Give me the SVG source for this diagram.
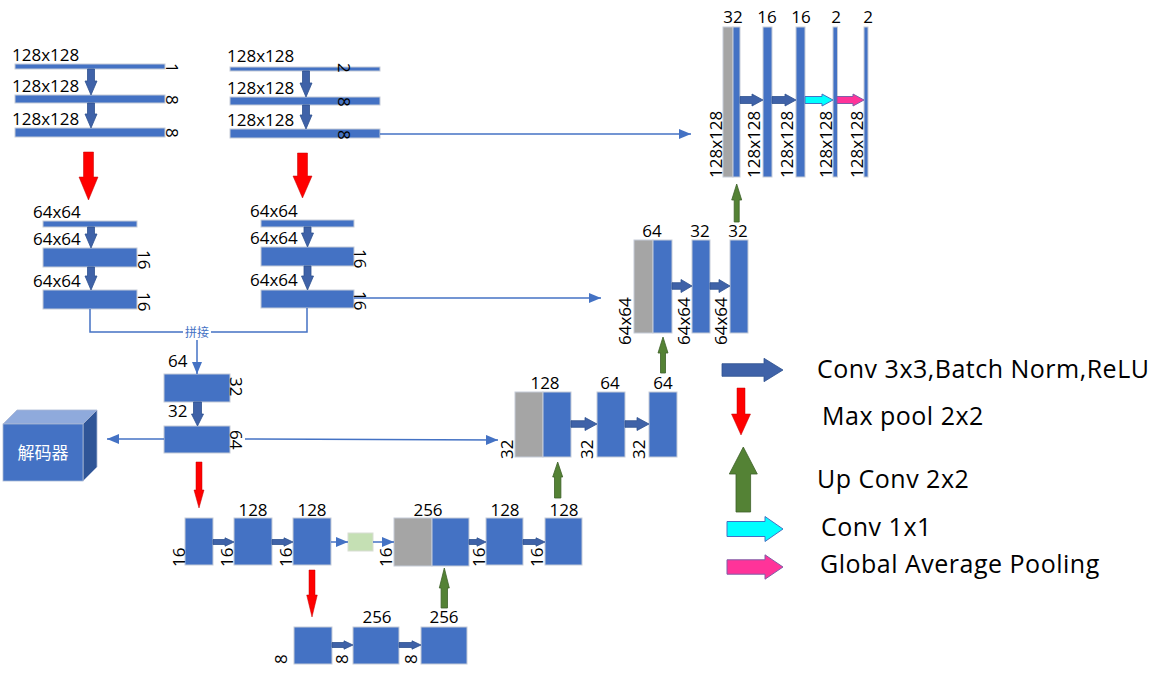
<svg xmlns="http://www.w3.org/2000/svg" width="1165" height="675" viewBox="0 0 1165 675">
<style>
.b{fill:#4472C4;stroke:#C5CCD8;stroke-width:1}
.g{fill:#A5A5A5;stroke:#C5CCD8;stroke-width:1}
.lgn{fill:#C5E0B4;stroke:#D8DDD4;stroke-width:1}
.t{font-family:"Open Sans","Liberation Sans",sans-serif;font-size:17px;fill:#000}
.c{text-anchor:middle}
.lg{font-size:25px;letter-spacing:0.5px}
.ca{fill:#3F62A8;stroke:#2F528F;stroke-width:0.8}
.mp{fill:#FF0000;stroke:#C00000;stroke-width:0.5}
.up{fill:#548235;stroke:#3E6128;stroke-width:0.8}
.cy{fill:#00FFFF;stroke:#4472C4;stroke-width:1}
.pk{fill:#FF3399;stroke:#7F5FA8;stroke-width:1}
.ln{stroke:#4472C4;stroke-width:1.5;fill:none}
</style>
<defs>
<marker id="ah" markerUnits="userSpaceOnUse" markerWidth="12" markerHeight="10" refX="12" refY="5" orient="auto">
<path d="M0,0 L12,5 L0,10 z" fill="#4472C4"/>
</marker>
</defs>
<rect width="1165" height="675" fill="#fff"/>

<!-- encoder branch 1, 128x128 -->
<g id="enc1-128">
<rect class="b" x="15" y="64" width="150" height="5"/>
<rect class="b" x="15" y="95" width="150" height="8"/>
<rect class="b" x="15" y="128" width="150" height="9"/>
<text class="t" x="12" y="61">128x128</text>
<text class="t" x="12" y="92">128x128</text>
<text class="t" x="12" y="125">128x128</text>
<text class="t" transform="translate(166,63) rotate(90)">1</text>
<text class="t" transform="translate(166,95) rotate(90)">8</text>
<text class="t" transform="translate(166,128) rotate(90)">8</text>
</g>
<!-- encoder branch 2, 128x128 -->
<g id="enc2-128">
<rect class="b" x="230" y="67" width="150" height="4"/>
<rect class="b" x="230" y="97" width="150" height="8"/>
<rect class="b" x="230" y="129" width="150" height="9"/>
<text class="t" x="227" y="62">128x128</text>
<text class="t" x="227" y="94">128x128</text>
<text class="t" x="227" y="126">128x128</text>
<text class="t" transform="translate(338,63) rotate(90)">2</text>
<text class="t" transform="translate(338,97) rotate(90)">8</text>
<text class="t" transform="translate(338,130) rotate(90)">8</text>
</g>
<!-- encoder branch 1, 64x64 -->
<g id="enc1-64">
<rect class="b" x="43" y="221" width="94" height="6"/>
<rect class="b" x="43" y="248" width="94" height="19"/>
<rect class="b" x="43" y="290" width="94" height="19"/>
<text class="t" x="33" y="218">64x64</text>
<text class="t" x="33" y="245">64x64</text>
<text class="t" x="33" y="287">64x64</text>
<text class="t" transform="translate(138,250) rotate(90)">16</text>
<text class="t" transform="translate(138,292) rotate(90)">16</text>
</g>
<!-- encoder branch 2, 64x64 -->
<g id="enc2-64">
<rect class="b" x="261" y="220" width="93" height="7"/>
<rect class="b" x="261" y="247" width="93" height="19"/>
<rect class="b" x="261" y="290" width="93" height="18"/>
<text class="t" x="250" y="217">64x64</text>
<text class="t" x="250" y="244">64x64</text>
<text class="t" x="250" y="286">64x64</text>
<text class="t" transform="translate(354,249) rotate(90)">16</text>
<text class="t" transform="translate(354,291) rotate(90)">16</text>
</g>
<!-- fused 32x32 -->
<g id="fuse-32">
<rect class="b" x="164" y="374" width="66" height="28"/>
<rect class="b" x="164" y="426" width="66" height="27"/>
<text class="t" x="168" y="367">64</text>
<text class="t" x="168" y="417">32</text>
<text class="t" transform="translate(230,377) rotate(90)">32</text>
<text class="t" transform="translate(230,430) rotate(90)">64</text>
</g>
<!-- decoder box -->
<g id="decoder">
<polygon points="3,424 17,410 97,410 83,424" fill="#8FAADC" stroke="#A9B8D4" stroke-width="0.8"/>
<polygon points="83,424 97,410 97,467 83,481" fill="#2F5597" stroke="#A9B8D4" stroke-width="0.8"/>
<rect x="3" y="424" width="80" height="57" fill="#4472C4" stroke="#A9B8D4" stroke-width="0.8"/>
<text x="43" y="459" text-anchor="middle" font-family="'Noto Sans CJK SC',sans-serif" font-size="17" fill="#fff">解码器</text>
</g>
<!-- 16x16 level -->
<g id="level-16">
<rect class="b" x="185" y="518" width="28" height="47"/>
<rect class="b" x="234" y="518" width="38" height="47"/>
<rect class="b" x="293" y="518" width="38" height="47"/>
<text class="t c" x="253" y="516">128</text>
<text class="t c" x="312" y="516">128</text>
<text class="t" transform="translate(185,567) rotate(-90)">16</text>
<text class="t" transform="translate(233,567) rotate(-90)">16</text>
<text class="t" transform="translate(292,567) rotate(-90)">16</text>
</g>
<g id="bridge">
<rect class="lgn" x="348" y="533" width="25" height="18"/>
</g>
<!-- bottleneck 8x8 -->
<g id="level-8">
<rect class="b" x="294" y="627" width="38" height="37"/>
<rect class="b" x="353" y="627" width="46" height="37"/>
<rect class="b" x="421" y="627" width="46" height="37"/>
<text class="t c" x="377" y="623">256</text>
<text class="t c" x="444" y="623">256</text>
<text class="t" transform="translate(287,664) rotate(-90)">8</text>
<text class="t" transform="translate(348,664) rotate(-90)">8</text>
<text class="t" transform="translate(417,664) rotate(-90)">8</text>
</g>
<!-- decoder 16x16 -->
<g id="dec-16">
<rect class="g" x="394" y="518" width="38" height="48"/>
<rect class="b" x="432" y="518" width="37" height="48"/>
<rect class="b" x="486" y="518" width="37" height="47"/>
<rect class="b" x="545" y="518" width="37" height="47"/>
<text class="t c" x="428" y="516">256</text>
<text class="t c" x="505" y="516">128</text>
<text class="t c" x="564" y="516">128</text>
<text class="t" transform="translate(392,567) rotate(-90)">16</text>
<text class="t" transform="translate(485,567) rotate(-90)">16</text>
<text class="t" transform="translate(543,567) rotate(-90)">16</text>
</g>
<!-- decoder 32x32 -->
<g id="dec-32">
<rect class="g" x="515" y="392" width="28" height="65"/>
<rect class="b" x="543" y="392" width="28" height="65"/>
<rect class="b" x="597" y="392" width="28" height="65"/>
<rect class="b" x="649" y="392" width="28" height="65"/>
<text class="t c" x="545" y="389">128</text>
<text class="t c" x="610" y="389">64</text>
<text class="t c" x="663" y="389">64</text>
<text class="t" transform="translate(513,459) rotate(-90)">32</text>
<text class="t" transform="translate(593,459) rotate(-90)">32</text>
<text class="t" transform="translate(645,459) rotate(-90)">32</text>
</g>
<!-- decoder 64x64 -->
<g id="dec-64">
<rect class="g" x="634" y="240" width="19" height="93"/>
<rect class="b" x="653" y="240" width="19" height="93"/>
<rect class="b" x="692" y="240" width="18" height="93"/>
<rect class="b" x="730" y="240" width="18" height="93"/>
<text class="t c" x="652" y="237">64</text>
<text class="t c" x="700" y="237">32</text>
<text class="t c" x="738" y="237">32</text>
<text class="t" transform="translate(631,345) rotate(-90)">64x64</text>
<text class="t" transform="translate(690,345) rotate(-90)">64x64</text>
<text class="t" transform="translate(727,345) rotate(-90)">64x64</text>
</g>
<!-- decoder 128x128 -->
<g id="dec-128">
<rect class="g" x="723" y="27" width="10" height="150"/>
<rect class="b" x="733" y="27" width="7" height="150"/>
<rect class="b" x="763" y="27" width="9" height="150"/>
<rect class="b" x="796" y="27" width="9" height="150"/>
<rect class="b" x="833" y="27" width="4.5" height="150"/>
<rect class="b" x="864" y="27" width="4" height="150"/>
<text class="t c" x="733" y="23">32</text>
<text class="t c" x="767" y="23">16</text>
<text class="t c" x="801" y="23">16</text>
<text class="t c" x="836" y="23">2</text>
<text class="t c" x="868" y="23">2</text>
<text class="t" transform="translate(722,178) rotate(-90)">128x128</text>
<text class="t" transform="translate(760,178) rotate(-90)">128x128</text>
<text class="t" transform="translate(793,178) rotate(-90)">128x128</text>
<text class="t" transform="translate(832,178) rotate(-90)">128x128</text>
<text class="t" transform="translate(863,178) rotate(-90)">128x128</text>
</g>

<g id="connectors">
<!-- thin skip / concat lines -->
<line class="ln" x1="380" y1="134" x2="691" y2="134" marker-end="url(#ah)"/>
<line class="ln" x1="354" y1="298" x2="601" y2="298" marker-end="url(#ah)"/>
<polyline class="ln" points="90,309 90,332 307,332 307,308"/>
<rect x="183" y="326" width="28" height="13" fill="#fff"/>
<text x="197" y="337" text-anchor="middle" font-family="'Noto Sans CJK SC',sans-serif" font-size="12" fill="#4472C4">拼接</text>
<line class="ln" x1="197" y1="340" x2="197" y2="374" marker-end="url(#ah)"/>
<line class="ln" x1="164" y1="439" x2="107" y2="439" marker-end="url(#ah)"/>
<line class="ln" x1="245" y1="439" x2="498" y2="440" marker-end="url(#ah)"/>
<line class="ln" x1="331" y1="542" x2="348" y2="542" marker-end="url(#ah)"/>
<line class="ln" x1="373" y1="542" x2="394" y2="542" marker-end="url(#ah)"/>
<!-- conv arrows -->
<polygon class="ca" points="87.5,69 94.5,69 94.5,81 97,81 91,95 85,81 87.5,81"/>
<polygon class="ca" points="87.5,103 94.5,103 94.5,114 97,114 91,128 85,114 87.5,114"/>
<polygon class="ca" points="302.5,71 309.5,71 309.5,83 312,83 306,97 300,83 302.5,83"/>
<polygon class="ca" points="302.5,105 309.5,105 309.5,115 312,115 306,129 300,115 302.5,115"/>
<polygon class="ca" points="87.5,227 94.5,227 94.5,234 97,234 91,248 85,234 87.5,234"/>
<polygon class="ca" points="87.5,267 94.5,267 94.5,276 97,276 91,290 85,276 87.5,276"/>
<polygon class="ca" points="304,227 311,227 311,233 313.5,233 307.5,247 301.5,233 304,233"/>
<polygon class="ca" points="304,266 311,266 311,276 313.5,276 307.5,290 301.5,276 304,276"/>
<polygon class="ca" points="193.5,402 201.5,402 201.5,414 203.5,414 197.5,426 191.5,414 193.5,414"/>
<polygon class="ca" points="213,539.5 225,539.5 225,537.8 234,542 225,546.2 225,544.5 213,544.5"/>
<polygon class="ca" points="272,539.5 284,539.5 284,537.8 293,542 284,546.2 284,544.5 272,544.5"/>
<polygon class="ca" points="469,539.5 477,539.5 477,537.8 486,542 477,546.2 477,544.5 469,544.5"/>
<polygon class="ca" points="523,539.5 536,539.5 536,537.8 545,542 536,546.2 536,544.5 523,544.5"/>
<polygon class="ca" points="332,642.5 344,642.5 344,640.8 353,645 344,649.2 344,647.5 332,647.5"/>
<polygon class="ca" points="399,642.5 412,642.5 412,640.8 421,645 412,649.2 412,647.5 399,647.5"/>
<polygon class="ca" points="571,420.7 585,420.7 585,417.5 597,424 585,430.5 585,427.3 571,427.3"/>
<polygon class="ca" points="625,420.7 637,420.7 637,417.5 649,424 637,430.5 637,427.3 625,427.3"/>
<polygon class="ca" points="672,282.7 681,282.7 681,279.5 692,286 681,292.5 681,289.3 672,289.3"/>
<polygon class="ca" points="710,282.7 719,282.7 719,279.5 730,286 719,292.5 719,289.3 710,289.3"/>
<polygon class="ca" points="740,96.5 752,96.5 752,94 763,100 752,106 752,103.5 740,103.5"/>
<polygon class="ca" points="772,96.5 785,96.5 785,94 796,100 785,106 785,103.5 772,103.5"/>
<polygon class="cy" points="805,96.5 822,96.5 822,94 833,100 822,106 822,103.5 805,103.5"/>
<polygon class="pk" points="837,96.5 853,96.5 853,94 864,100 853,106 853,103.5 837,103.5"/>
<!-- max pool arrows -->
<polygon class="mp" points="83.5,152 93.5,152 93.5,177 98,177 88.5,200 79,177 83.5,177"/>
<polygon class="mp" points="297.5,153 307.5,153 307.5,176 312,176 302.5,198 293,176 297.5,176"/>
<polygon class="mp" points="196,462 202,462 202,490 204,490 199,508 194,490 196,490"/>
<polygon class="mp" points="309,570 315,570 315,595 317.3,595 312,617 306.7,595 309,595"/>
<!-- up conv arrows -->
<polygon class="up" points="736.7,184 741.7,200 739.2,200 739.2,222 734.2,222 734.2,200 731.7,200"/>
<polygon class="up" points="663,337 668,353 665.5,353 665.5,373 660.5,373 660.5,353 658,353"/>
<polygon class="up" points="557.7,462 562.7,477 560.9,477 560.9,498 554.5,498 554.5,477 552.7,477"/>
<polygon class="up" points="444.3,568 449.3,588 447.5,588 447.5,608 441.1,608 441.1,588 439.3,588"/>
</g>

<g id="legend">
<polygon class="ca" points="722,363.7 764,363.7 764,358.3 783,370 764,381.7 764,376.3 722,376.3"/>
<text class="t lg" x="817" y="378">Conv 3x3,Batch Norm,ReLU</text>
<polygon class="mp" points="737,388 745,388 745,414 750.5,414 741,435 731.5,414 737,414"/>
<text class="t lg" x="822" y="425">Max pool 2x2</text>
<polygon class="up" points="743.3,447 757.3,474 750.6,474 750.6,512 736,512 736,474 729.3,474"/>
<text class="t lg" x="817" y="488">Up Conv 2x2</text>
<polygon class="cy" points="727,521.5 765,521.5 765,516.5 783,529 765,541.5 765,536.5 727,536.5"/>
<text class="t lg" x="821" y="536">Conv 1x1</text>
<polygon class="pk" points="727,559.8 765,559.8 765,554.8 783,567 765,579.2 765,574.2 727,574.2"/>
<text class="t lg" x="820" y="573">Global Average Pooling</text>
</g>
</svg>
